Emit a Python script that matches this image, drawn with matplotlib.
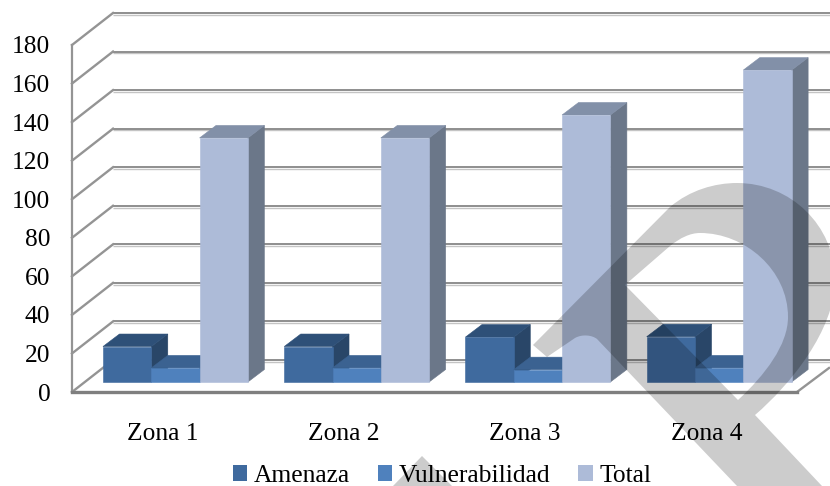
"""3-D look clustered columns per zone, drawn as sheared polygons on a 2-D axes."""

import matplotlib
matplotlib.use("Agg")
import matplotlib.pyplot as plt
from matplotlib.patches import Patch, PathPatch, Polygon
from matplotlib.path import Path

# ---------------------------------------------------------------------------
# Data
# ---------------------------------------------------------------------------
zones = ["Zona 1", "Zona 2", "Zona 3", "Zona 4"]
series_names = ["Amenaza", "Vulnerabilidad", "Total"]
amenaza = [18.4, 18.4, 23.3, 23.5]
vulnerabilidad = [7.3, 7.3, 6.4, 7.3]
total = [126.6, 126.6, 138.5, 161.8]
y_ticks = [0, 20, 40, 60, 80, 100, 120, 140, 160, 180]

# front, top, side colours per series
colors = [
    ("#3f6a9e", "#2e5078", "#294668"),
    ("#4f81bd", "#3b6291", "#335579"),
    ("#adbbd8", "#8290a8", "#6b7789"),
]

# ---------------------------------------------------------------------------
# Settings (pixels on an 830x486 canvas)
# ---------------------------------------------------------------------------
W, H = 830, 486
LEFT, RIGHT, FLOOR, TOP = 72, 797, 392, 45
PX_X = (RIGHT - LEFT) / 4.0
PX_Y = (FLOOR - TOP) / 180.0

WALL_DX, WALL_DY = 41 / PX_X, 32 / PX_Y      # floor depth
FRONT_DX, FRONT_DY = 12.8 / PX_X, 10 / PX_Y  # gap from axis to bar front
DEPTH_DX, DEPTH_DY = 16.5 / PX_X, 12.5 / PX_Y
BAR_W = 48.3 / PX_X
BACK_END = (W - LEFT) / PX_X - 0.5

GRID = "#868686"
SHADOW = "#c4c4c4"

plt.rcParams["font.family"] = ["Liberation Serif", "DejaVu Serif"]
plt.rcParams["font.size"] = 18.4

fig = plt.figure(figsize=(W / 100, H / 100), dpi=100)
ax = fig.add_axes([LEFT / W, (H - FLOOR) / H, (RIGHT - LEFT) / W, (FLOOR - TOP) / H])
ax.set_xlim(-0.5, 3.5)
ax.set_ylim(0, 180)

# ── Walls and floor ───────────────────────────────────────────────────────
for t in y_ticks:
    back_x = -0.5 + WALL_DX
    back_y = t + WALL_DY
    ax.plot([back_x, BACK_END], [back_y - 0.9] * 2, color=SHADOW, lw=1.0,
            clip_on=False, zorder=1, solid_capstyle="butt")
    ax.plot([back_x, BACK_END], [back_y, back_y], color=GRID, lw=1.3,
            clip_on=False, zorder=1.1, solid_capstyle="butt")
    ax.plot([-0.5, back_x], [t, back_y], color="#949494", lw=1.7,
            clip_on=False, zorder=1.1)

ax.plot([3.5, 3.5 + 32 / PX_X], [0, 24 / PX_Y], color="#949494", lw=1.7,
        clip_on=False, zorder=1.1)

# ── Bars ──────────────────────────────────────────────────────────────────
for s, values in enumerate([amenaza, vulnerabilidad, total]):
    front, top, side = colors[s]
    for i, v in enumerate(values):
        x0 = i - 1.5 * BAR_W + s * BAR_W + FRONT_DX
        x1 = x0 + BAR_W
        y0 = FRONT_DY
        y1 = y0 + v
        z = 2 + s + i * 3
        # thin edge in the face colour hides the seam between faces
        ax.add_patch(Polygon([(x1, y0), (x1 + DEPTH_DX, y0 + DEPTH_DY),
                              (x1 + DEPTH_DX, y1 + DEPTH_DY), (x1, y1)],
                             fc=side, ec=side, lw=0.4, clip_on=False, zorder=z))
        ax.add_patch(Polygon([(x0, y1), (x0 + DEPTH_DX, y1 + DEPTH_DY),
                              (x1 + DEPTH_DX, y1 + DEPTH_DY), (x1, y1)],
                             fc=top, ec=top, lw=0.4, clip_on=False, zorder=z))
        ax.add_patch(Polygon([(x0, y0), (x1, y0), (x1, y1), (x0, y1)],
                             fc=front, ec=front, lw=0.4, clip_on=False, zorder=z))

# ── Axes, ticks, legend ───────────────────────────────────────────────────
for name in ["top", "right"]:
    ax.spines[name].set_visible(False)
ax.spines["left"].set_color("#949494")
ax.spines["left"].set_linewidth(1.6)
ax.spines["bottom"].set_color("#7f7f7f")
ax.spines["bottom"].set_linewidth(2.4)
ax.set_zorder(2)
ax.patch.set_visible(False)

ax.set_xticks(range(len(zones)))
ax.set_xticklabels(zones)
ax.set_yticks(y_ticks)
ax.tick_params(axis="x", length=0, pad=22)
ax.tick_params(axis="y", length=0, pad=15.5)

handles = [Patch(fc=colors[s][0], ec="none", label=series_names[s]) for s in range(3)]
fig.legend(handles=handles, loc="lower left", bbox_to_anchor=(233 / W, -1 / H),
           ncol=3, frameon=False, fontsize=18.4, borderpad=0, borderaxespad=0,
           handlelength=0.56, handleheight=0.56, handletextpad=0.26,
           columnspacing=1.09)

# ── Watermark over everything, in canvas pixels ───────────────────────────
def px(x, y):
    return (x, H - y)


verts = [
    px(533, 345), px(670, 207),
    px(690, 190), px(715, 183), px(737, 183),
    px(790, 183), px(835, 225), px(835, 280),
    px(835, 330), px(790, 385), px(755, 415),
    px(822, 486), px(737, 486), px(597, 339),
    px(592, 335), px(582, 334), px(575, 338),
    px(547, 357), px(533, 345),
    # hole runs the other way round
    px(625, 285), px(738, 400),
    px(765, 375), px(788, 345), px(788, 317),
    px(788, 270), px(745, 233), px(700, 233),
    px(690, 233), px(680, 238), px(670, 246),
    px(625, 285),
    px(422, 456), px(393, 486), px(452, 486), px(422, 456),
]
L, C, M, X = Path.LINETO, Path.CURVE4, Path.MOVETO, Path.CLOSEPOLY
codes = [
    M, L,
    C, C, C,
    C, C, C,
    C, C, C,
    L, L, L,
    C, C, C,
    L, X,
    M, L,
    C, C, C,
    C, C, C,
    C, C, C,
    X,
    M, L, L, X,
]
fig.add_artist(PathPatch(Path(verts, codes), fc="black", ec="none", alpha=0.2,
                         transform=None, zorder=20))

fig.savefig("out.png", dpi=100)
plt.close(fig)
